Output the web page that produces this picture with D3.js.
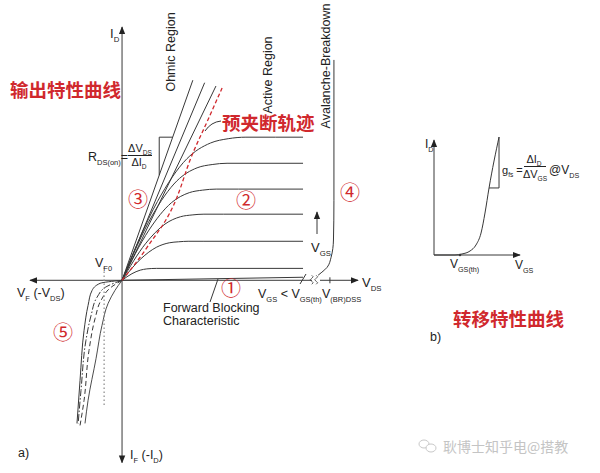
<!DOCTYPE html>
<html><head><meta charset="utf-8">
<script src="https://cdn.jsdelivr.net/npm/d3@7"></script>
<style>body{margin:0;background:#fff}</style>
</head><body><svg id="c" width="600" height="473"></svg>
<script>
// ---------- data (schematic values) ----------
// output characteristic: [V_DS, I_D] control points, one array per V_GS step
const outputCurve1 = [[0,0],[0.42,0.26],[0.77,0.40],[1.05,0.45],[1.26,0.465],[1.47,0.47],[1.82,0.47],[7.67,0.47]];
const outputCurve2 = [[0,0],[0.80,0.85],[1.47,1.31],[2.0,1.48],[2.4,1.52],[2.8,1.54],[3.47,1.54],[7.67,1.54]];
const outputCurve3 = [[0,0],[0.99,1.44],[1.82,2.22],[2.48,2.51],[2.97,2.58],[3.47,2.61],[4.29,2.61],[7.67,2.61]];
const outputCurve4 = [[0,0],[1.14,1.98],[2.09,3.06],[2.85,3.46],[3.42,3.56],[3.99,3.60],[4.94,3.60],[7.67,3.60]];
const outputCurve5 = [[0,0],[1.27,2.54],[2.33,3.93],[3.18,4.44],[3.82,4.57],[4.45,4.62],[5.51,4.62],[7.67,4.62]];
const outputCurve6 = [[0,0],[1.5,3.11],[2.75,4.80],[3.75,5.42],[4.5,5.59],[5.25,5.65],[6.5,5.65],[7.67,5.65]];
const leakageCurve = [[0,0],[7.67,0.12]];
const ohmicLine1 = [[0,0],[3.0,7.9]];
const ohmicLine2 = [[0,0],[3.5,7.8]];
const ohmicLine3 = [[0,0],[3.98,7.67]];
const pinchOffLocus = [[0,0],[1.06,1.30],[2.33,3.28],[2.88,4.74],[3.60,6.25],[4.24,7.59]];
const breakdownCurve = [[8.98,8.70],[8.98,3.16],[8.96,1.59],[8.86,0.91],[8.69,0.51],[8.47,0.32],[8.31,0.20]];
const reverseCurve1 = [[0,0],[-0.93,-0.12],[-1.27,-0.40],[-1.44,-0.99],[-1.61,-1.98],[-1.78,-3.95],[-1.91,-5.65]];
const reverseCurve2 = [[0,0],[-0.64,-0.24],[-1.06,-0.67],[-1.31,-1.38],[-1.53,-2.37],[-1.74,-4.35],[-1.86,-5.65]];
const reverseCurve3 = [[0,0],[-0.47,-0.28],[-0.89,-0.79],[-1.14,-1.50],[-1.40,-2.77],[-1.61,-4.74],[-1.78,-5.73]];
const reverseCurve4 = [[0,0],[-0.30,-0.40],[-0.59,-0.91],[-0.85,-1.78],[-1.10,-3.08],[-1.44,-4.74],[-1.57,-5.65]];
const vF0 = -0.76;          // V_F0 position
const vF0Range = [0.5, -4.94];
const vBR = 8.81;           // V_(BR)DSS position
const rdsStep = [5.65, 4.15]; // I_D levels of the R_DS(on) triangle
// transfer characteristic: [V_GS, I_D]
const transferCurve = [[0,0],[2.44,0],[3.26,0.09],[4.19,0.35],[4.88,0.87],[5.47,1.91],[5.93,3.65],[6.40,5.83],[7.56,10.26]];
const vGSth = 3.02;
const regionLabels = ["Ohmic Region", "Active Region", "Avalanche-Breakdown"];
const circledNums = ["①","②","③","④","⑤"];

// ---------- drawing ----------
const svg = d3.select("#c");
const FONT = "Liberation Sans, Arial, sans-serif";
const CJK = "Noto Sans CJK SC, sans-serif";
const RED = "#d0282d";
const INK = "#383838";

const x = d3.scaleLinear().domain([-4.24, 10]).range([22, 358]);
const y = d3.scaleLinear().domain([-7.5, 10]).range([470.25, 27]);
const xT = d3.scaleLinear().domain([0, 10]).range([434, 520]);
const yT = d3.scaleLinear().domain([0, 10]).range([255, 140]);

const defs = svg.append("defs");
defs.append("marker").attr("id","arr").attr("viewBox","0 -5 10 10")
  .attr("refX",9).attr("refY",0).attr("markerWidth",8).attr("markerHeight",8)
  .attr("markerUnits","userSpaceOnUse").attr("orient","auto-start-reverse")
  .append("path").attr("d","M0,-4L10,0L0,4Z").attr("fill","#222");

const lineXY = (sx, sy, c) => d3.line().x(d => sx(d[0])).y(d => sy(d[1])).curve(c || d3.curveLinear);

function rich(x0, y0, parts, size, anchor, color, fam) {
  const t = svg.append("text").attr("x", x0).attr("y", y0)
    .attr("font-size", size).attr("font-family", fam || FONT)
    .attr("fill", color || "#222").attr("text-anchor", anchor || "start");
  let prevSub = false;
  parts.forEach(p => {
    const sub = p.startsWith("_");
    const s = t.append("tspan").text(sub ? p.slice(1) : p);
    if (sub) { s.attr("font-size", size * 0.6); if (!prevSub) s.attr("dy", size * 0.3); }
    else if (prevSub) s.attr("dy", -size * 0.3);
    prevSub = sub;
  });
  return t;
}

// ---- main axes ----
svg.append("line").attr("x1", x(0)).attr("x2", x(0)).attr("y1", y(-7.2)).attr("y2", y(10))
  .attr("stroke", INK).attr("marker-start","url(#arr)").attr("marker-end","url(#arr)");
svg.append("line").attr("x1", x(-3.9)).attr("x2", x(8.05)).attr("y1", y(0)).attr("y2", y(0))
  .attr("stroke", INK).attr("marker-start","url(#arr)");
svg.append("line").attr("x1", x(8.39)).attr("x2", x(10)).attr("y1", y(0)).attr("y2", y(0))
  .attr("stroke", INK).attr("marker-end","url(#arr)");
// axis break wiggles
[8.08, 8.27].forEach(v => {
  const cx = x(v), cy = y(0);
  svg.append("path").attr("d", `M${cx-1},${cy-5} q3,1.5 0,3 q-3,1.5 0,3 q3,1.5 0,3`)
    .attr("fill","none").attr("stroke", INK).attr("stroke-width", 0.8);
});
// V_(BR)DSS tick
svg.append("line").attr("x1", x(vBR)).attr("x2", x(vBR)).attr("y1", y(0)-3).attr("y2", y(0)+3).attr("stroke", INK);

// ---- output curves ----
const outG = svg.append("g").attr("fill","none").attr("stroke", INK).attr("stroke-width", 1);
[outputCurve1, outputCurve2, outputCurve3, outputCurve4, outputCurve5, outputCurve6].forEach(c =>
  outG.append("path").attr("d", lineXY(x, y, d3.curveMonotoneX)(c)));
outG.append("path").attr("d", lineXY(x, y)(leakageCurve));
[ohmicLine1, ohmicLine2, ohmicLine3].forEach(c => outG.append("path").attr("d", lineXY(x, y)(c)));
outG.append("path").attr("d", lineXY(x, y, d3.curveMonotoneY)(breakdownCurve));
// R_DS(on) step
const sl = ohmicLine1[1][0] / ohmicLine1[1][1];
outG.append("path").attr("d",
  `M${x(rdsStep[1]*sl)},${y(rdsStep[1])}L${x(rdsStep[1]*sl)},${y(rdsStep[0])}L${x(rdsStep[0]*sl)},${y(rdsStep[0])}`);
// pinch-off locus
svg.append("path").attr("d", lineXY(x, y, d3.curveMonotoneX)(pinchOffLocus))
  .attr("fill","none").attr("stroke", RED).attr("stroke-width", 1.3).attr("stroke-dasharray","4,2.5");
// reverse curves
const revStyles = [["",1], ["7,2,1.5,2",1], ["5,3",1], ["",0.9]];
[reverseCurve1, reverseCurve2, reverseCurve3, reverseCurve4].forEach((c, i) =>
  svg.append("path").attr("d", lineXY(x, y, d3.curveMonotoneY)(c)).attr("fill","none")
    .attr("stroke", INK).attr("stroke-width", revStyles[i][1]).attr("stroke-dasharray", revStyles[i][0]));
// V_F0 dotted
svg.append("line").attr("x1", x(vF0)).attr("x2", x(vF0)).attr("y1", y(vF0Range[0])).attr("y2", y(vF0Range[1]))
  .attr("stroke","#888").attr("stroke-width",1.2).attr("stroke-dasharray","1.5,2.5");
// V_GS arrow
svg.append("line").attr("x1", 317).attr("x2", 317).attr("y1", 234).attr("y2", 212)
  .attr("stroke", INK).attr("marker-end","url(#arr)");
// leader lines
svg.append("path").attr("d","M210,302L218,279").attr("stroke", INK).attr("fill","none");
svg.append("path").attr("d","M300,284L306,274").attr("stroke", INK).attr("fill","none");
svg.append("path").attr("d","M221,121Q211,122 205,131").attr("stroke", INK).attr("fill","none");

// ---- main labels ----
rich(110, 38, ["I","_D"], 13);
const rot = [[175,52],[272,75],[330,66]];
regionLabels.forEach((t, i) =>
  svg.append("text").attr("transform", `translate(${rot[i][0]},${rot[i][1]}) rotate(-90)`)
    .attr("text-anchor","middle").attr("font-size",12.5).attr("font-family",FONT).attr("fill","#222").text(t));
rich(88, 161, ["R","_DS(on)","="], 12.5);
rich(140, 152, ["ΔV","_DS"], 11, "middle");
svg.append("line").attr("x1",128).attr("x2",152).attr("y1",155.5).attr("y2",155.5).attr("stroke","#222");
rich(139, 166, ["ΔI","_D"], 11, "middle");
rich(311, 252, ["V","_GS"], 13);
rich(95, 267, ["V","_F0"], 12.5);
rich(17, 297, ["V","_F"," (-V","_DS",")"], 12.5);
rich(258, 298, ["V","_GS"," < V","_GS(th)"], 12.5);
rich(322, 298, ["V","_(BR)DSS"], 12.5);
rich(362, 287, ["V","_DS"], 13);
rich(163, 312, ["Forward Blocking"], 12.5);
rich(163, 325, ["Characteristic"], 12.5);
rich(18, 457, ["a)"], 12.5);
rich(130, 459, ["I","_F"," (-I","_D",")"], 12.5);

// red annotations
svg.append("text").attr("x",10).attr("y",97).attr("font-size",18.5).attr("font-weight","bold")
  .attr("font-family",CJK).attr("fill",RED).text("输出特性曲线");
svg.append("text").attr("x",222).attr("y",130).attr("font-size",18.5).attr("font-weight","bold")
  .attr("font-family",CJK).attr("fill",RED).text("预夹断轨迹");
const circPos = [[231,289],[246,201],[138,200],[350,193],[63,333]];
circledNums.forEach((t, i) =>
  svg.append("text").attr("x",circPos[i][0]).attr("y",circPos[i][1]).attr("text-anchor","middle")
    .attr("dy","0.36em").attr("font-size",20).attr("font-family",CJK)
    .attr("fill",RED).text(t));

// ---- transfer characteristic ----
svg.append("line").attr("x1", xT(0)).attr("x2", xT(0)).attr("y1", yT(0)).attr("y2", yT(10))
  .attr("stroke", INK).attr("marker-end","url(#arr)");
svg.append("line").attr("x1", xT(0)).attr("x2", xT(10)).attr("y1", yT(0)).attr("y2", yT(0))
  .attr("stroke", INK).attr("marker-end","url(#arr)");
svg.append("path").attr("d", lineXY(xT, yT, d3.curveMonotoneX)(transferCurve))
  .attr("fill","none").attr("stroke", INK);
const tTop = transferCurve[transferCurve.length-1], tMid = transferCurve[transferCurve.length-2];
svg.append("path").attr("d", `M${xT(tTop[0])},${yT(tTop[1])}L${xT(tTop[0])},${yT(tMid[1])}L${xT(tMid[0])},${yT(tMid[1])}`)
  .attr("fill","none").attr("stroke", INK);
svg.append("circle").attr("cx", xT(vGSth)).attr("cy", yT(0)).attr("r",1.3).attr("fill", INK);
rich(425, 148, ["I","_D"], 12);
rich(502, 174, ["g","_fs"," ="], 11);
rich(534, 163, ["ΔI","_D"], 11, "middle");
svg.append("line").attr("x1",524).attr("x2",546).attr("y1",166.5).attr("y2",166.5).attr("stroke","#222");
rich(535, 178, ["ΔV","_GS"], 11, "middle");
rich(549, 174, ["@V","_DS"], 12);
rich(450, 268, ["V","_GS(th)"], 12);
rich(515, 269, ["V","_GS"], 12);
svg.append("text").attr("x",453).attr("y",326).attr("font-size",18.5).attr("font-weight","bold")
  .attr("font-family",CJK).attr("fill",RED).text("转移特性曲线");
rich(430, 341, ["b)"], 12.5);

// watermark
const wm = svg.append("g").attr("fill","none").attr("stroke","#c8c8c8");
wm.append("ellipse").attr("cx",424).attr("cy",444).attr("rx",5).attr("ry",4);
wm.append("ellipse").attr("cx",431).attr("cy",448).attr("rx",5).attr("ry",4).attr("fill","#fff");
svg.append("text").attr("x",443).attr("y",452).attr("font-size",14).attr("font-family",CJK)
  .attr("fill","#c4c4c4").text("耿博士知乎电@搭教");
</script></body></html>
